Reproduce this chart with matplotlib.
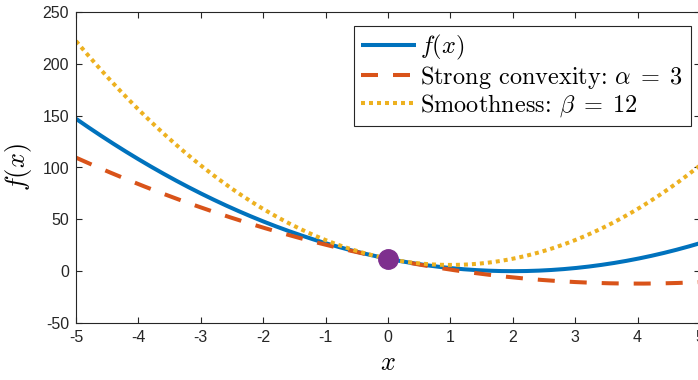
import numpy as np
import matplotlib
matplotlib.use("Agg")
import matplotlib.pyplot as plt

plt.rcParams["mathtext.fontset"] = "cm"
plt.rcParams["font.family"] = ["Liberation Sans", "DejaVu Sans"]
plt.rcParams["axes.unicode_minus"] = False

# Quadratic f(x) = a (x - m)^2 and its bounds around the point x0
a_coef = 3.0
x_min = 2.0
x0 = 0.0
alpha = 3
beta = 12

x_range = [-5, 5]
x_ticks = [-5, -4, -3, -2, -1, 0, 1, 2, 3, 4, 5]
y_ticks = [-50, 0, 50, 100, 150, 200, 250]
y_range = [-50, 250]

x = np.linspace(x_range[0], x_range[1], 400)
f = a_coef * (x - x_min) ** 2
f0 = a_coef * (x0 - x_min) ** 2
g0 = 2 * a_coef * (x0 - x_min)
lower = f0 + g0 * (x - x0) + alpha / 2 * (x - x0) ** 2
upper = f0 + g0 * (x - x0) + beta / 2 * (x - x0) ** 2

W, H = 698, 380
fig = plt.figure(figsize=(W / 100, H / 100), dpi=100)
ax = fig.add_axes([76 / W, 1 - 323 / H, (700 - 76) / W, (323 - 12) / H])

blue = "#0072BD"
orange = "#D95319"
yellow = "#EDB120"
purple = "#7E2F8E"
lw = 2.9
px = 72 / 100 / lw  # one pixel in linewidth units

ax.plot(x, f, color=blue, lw=lw, label=r"$f(x)$", solid_capstyle="butt")
ax.plot(x, lower, color=orange, lw=lw, dashes=(17 * px, 15 * px),
        dash_capstyle="butt",
        label=r"Strong convexity: $\alpha\;=\;%d$" % alpha)
ax.plot(x, upper, color=yellow, lw=lw, dashes=(4 * px, 4 * px),
        dash_capstyle="butt",
        label=r"Smoothness: $\beta\;=\;%d$" % beta)
ax.plot([x0], [f0], "o", color=purple, ms=14, zorder=5)

ax.set_xlim(x_range)
ax.set_ylim(y_range)
ax.set_xticks(x_ticks)
ax.set_yticks(y_ticks)
ax.tick_params(direction="in", length=4, width=0.8, labelsize=11.5,
               colors="#262626", top=True, right=True, pad=5)
for s in ax.spines.values():
    s.set_linewidth(0.8)
    s.set_color("#262626")

ax.set_xlabel(r"$x$", fontsize=19, labelpad=4)
ax.set_ylabel(r"$f(x)$", fontsize=19, labelpad=6)

leg = ax.legend(loc="upper right", bbox_to_anchor=(0.985, 0.955),
                prop={"family": "cmr10", "size": 17.5}, frameon=True,
                fancybox=False, edgecolor="#262626", framealpha=1,
                handlelength=2.25, handletextpad=0.2, labelspacing=0.05,
                borderpad=0.3, borderaxespad=0)
leg.get_frame().set_linewidth(0.8)

fig.savefig("out.png", dpi=100)
